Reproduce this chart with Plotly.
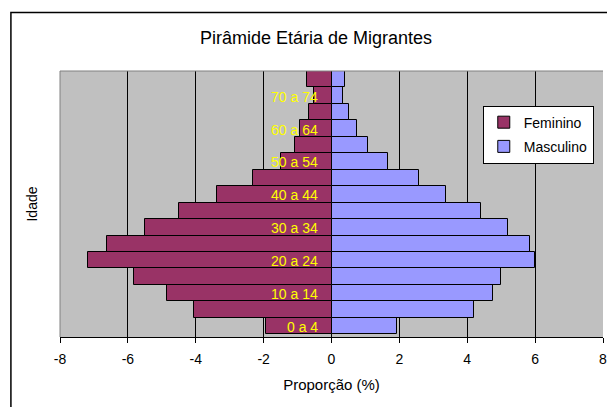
import plotly.graph_objects as go

faixas = ["0 a 4", "5 a 9", "10 a 14", "15 a 19", "20 a 24", "25 a 29", "30 a 34",
          "35 a 39", "40 a 44", "45 a 49", "50 a 54", "55 a 59", "60 a 64",
          "65 a 69", "70 a 74", "75 e +"]
feminino = [-1.93, -4.05, -4.86, -5.83, -7.18, -6.61, -5.51, -4.48, -3.37, -2.31,
            -1.50, -1.07, -0.92, -0.65, -0.51, -0.73]
masculino = [1.93, 4.21, 4.77, 4.98, 6.01, 5.84, 5.19, 4.41, 3.38, 2.57,
             1.65, 1.08, 0.75, 0.51, 0.33, 0.41]
rotulos_visiveis = faixas[::2][:8]
xticks = [-8, -6, -4, -2, 0, 2, 4, 6, 8]

FONT = "Liberation Sans, Arial, sans-serif"

fig = go.Figure()
fig.add_trace(go.Bar(y=faixas, x=feminino, orientation="h", name="Feminino",
                     legendgroup="f",
                     marker=dict(color="#993366", line=dict(color="black", width=1)),
                     hoverinfo="skip"))
fig.add_trace(go.Bar(y=faixas, x=masculino, orientation="h", name="Masculino",
                     legendgroup="m",
                     marker=dict(color="#9999FF", line=dict(color="black", width=1)),
                     hoverinfo="skip"))

for f in rotulos_visiveis:
    fig.add_annotation(x=0, y=f, xref="x", yref="y", text=f, showarrow=False,
                       xanchor="right", xshift=-12, yshift=-1,
                       font=dict(family=FONT, size=14, color="#FFFF00"))

# outer chart border
fig.add_shape(type="rect", xref="paper", yref="paper",
              x0=-0.0904, x1=1.2, y0=-0.4, y1=1.2197,
              line=dict(color="black", width=1.5), layer="below")

fig.update_layout(
    width=607, height=407,
    margin=dict(l=60, r=0, t=71, b=70),
    paper_bgcolor="white", plot_bgcolor="#C0C0C0",
    barmode="relative", bargap=0,
    font=dict(family=FONT, size=14, color="black"),
    title=dict(text="Pirâmide Etária de Migrantes", x=316/607, xref="container",
               xanchor="center", y=1 - 38/407, yref="container", yanchor="middle",
               font=dict(family=FONT, size=18, color="black")),
    xaxis=dict(range=[-8, 8], tickvals=xticks, ticktext=[str(v) for v in xticks],
               showgrid=True, gridcolor="black", gridwidth=1, zeroline=False,
               showline=True, linecolor="black", linewidth=1,
               ticks="outside", ticklen=5, tickcolor="black",
               ticklabelstandoff=4, ticklabeloverflow="allow",
               tickfont=dict(family=FONT, size=14),
               title=dict(text="Proporção (%)", standoff=13,
                          font=dict(family=FONT, size=15)),
               fixedrange=True),
    yaxis=dict(showticklabels=False, ticks="", showgrid=False, zeroline=False,
               showline=False, categoryorder="array", categoryarray=faixas,
               title=dict(text="Idade", standoff=18, font=dict(family=FONT, size=14)),
               fixedrange=True),
    legend=dict(x=(482 - 60) / 542, y=0.87, xanchor="left", yanchor="top",
                bgcolor="white", bordercolor="black", borderwidth=1,
                font=dict(family=FONT, size=14), itemwidth=30,
                tracegroupgap=3),
    showlegend=True,
)
# left and top plot border in gray
fig.add_shape(type="line", xref="paper", yref="paper", x0=0, x1=0, y0=0, y1=1,
              line=dict(color="#808080", width=1))
fig.add_shape(type="line", xref="paper", yref="paper", x0=0, x1=1, y0=1, y1=1,
              line=dict(color="#808080", width=1))

fig.write_html("out.html", config={"displayModeBar": False},
               post_script="document.body.style.margin='0';document.body.style.overflow='hidden';")
